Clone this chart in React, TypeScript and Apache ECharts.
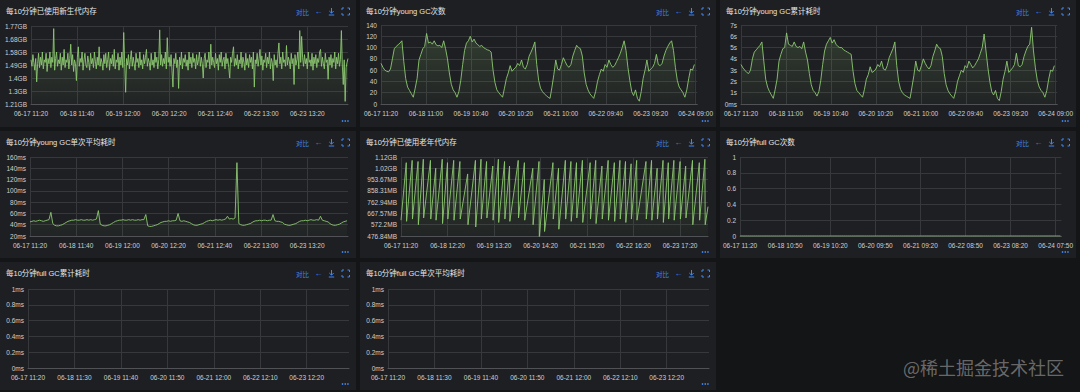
import React, { useEffect, useRef } from 'react';
import * as echarts from 'echarts';

// ---- time axis (10-minute slots starting 06-17 11:20) ----
const START_DAY = 17;
const START_MINUTE = 11 * 60 + 20;
const SLOT_MINUTES = 10;

// ---- series values ----
// 已使用新生代内存, in millions of bytes, one reading per 30 minutes (3 slots)
const youngUsedM = [
  1640, 1590, 1680, 1620, 1560, 1650, 1470, 1610, 1690, 1580,
  1660, 1600, 1700, 1570, 1640, 1620, 1690, 1550, 1650, 1610,
  1700, 1580, 1660, 1620, 1880, 1560, 1650, 1700, 1590, 1640,
  1610, 1690, 1560, 1660, 1600, 1720, 1580, 1640, 1620, 1690,
  1570, 1650, 1760, 1600, 1680, 1550, 1640, 1610, 1480, 1660,
  1740, 1590, 1650, 1620, 1700, 1560, 1640, 1690, 1600, 1580,
  1670, 1620, 1560, 1690, 1610, 1650, 1580, 1700, 1630, 1570,
  1660, 1600, 1740, 1590, 1650, 1620, 1560, 1680, 1610, 1690,
  1580, 1640, 1700, 1560, 1650, 1610, 1680, 1590, 1720, 1570,
  1640, 1620, 1690, 1560, 1660, 1600, 1700, 1580, 1850, 1620,
  1390, 1650, 1600, 1680, 1570, 1640, 1710, 1590, 1660, 1610,
  1560, 1690, 1620, 1650, 1580, 1700, 1600, 1640, 1570, 1680,
  1610, 1660, 1720, 1590, 1650, 1620, 1560, 1690, 1600, 1640,
  1580, 1700, 1620, 1660, 1570, 1640, 1870, 1600, 1680, 1590,
  1650, 1610, 1700, 1570, 1810, 1620, 1660, 1590, 1680, 1560,
  1430, 1650, 1610, 1690, 1580, 1640, 1420, 1660, 1600, 1700,
  1570, 1650, 1620, 1680, 1590, 1640, 1560, 1700, 1610, 1660,
  1580, 1690, 1620, 1650, 1570, 1680, 1600, 1640, 1700, 1590,
  1660, 1610, 1500, 1650, 1690, 1580, 1640, 1620, 1700, 1570,
  1760, 1600, 1660, 1620, 1580, 1690, 1610, 1650, 1560, 1680,
  1620, 1700, 1590, 1640, 1660, 1570, 1690, 1610, 1650, 1580,
  1500, 1660, 1620, 1690, 1740, 1590, 1650, 1600, 1680, 1570,
  1640, 1610, 1700, 1580, 1660, 1620, 1560, 1690, 1600, 1650,
  1580, 1680, 1620, 1660, 1570, 1700, 1430, 1640, 1610, 1690,
  1590, 1650, 1720, 1600, 1670, 1560, 1640, 1620, 1690, 1580,
  1660, 1610, 1700, 1570, 1650, 1620, 1480, 1680, 1600, 1640,
  1580, 1690, 1770, 1610, 1660, 1570, 1700, 1620, 1640, 1590,
  1750, 1600, 1660, 1630, 1570, 1690, 1610, 1650, 1450, 1680,
  1600, 1640, 1700, 1570, 1865, 1620, 1820, 1660, 1590, 1680,
  1610, 1650, 1570, 1700, 1620, 1640, 1590, 1690, 1560, 1660,
  1610, 1680, 1580, 1650, 1620, 1700, 1720, 1590, 1660, 1610,
  1570, 1690, 1620, 1640, 1490, 1660, 1600, 1680, 1580, 1650,
  1620, 1700, 1570, 1660, 1610, 1690, 1590, 1640, 1865, 1600,
  1450, 1640, 1320, 1580, 1620, 1650,
];

// young GC次数, one reading per hour
const youngCount = [
  72, 65, 60, 58, 57, 62, 80, 98, 102, 105,
  108, 112, 75, 45, 30, 24, 18, 12, 28, 45,
  78, 88, 98, 102, 125, 108, 110, 106, 112, 105,
  103, 104, 100, 112, 98, 80, 55, 35, 25, 20,
  12, 22, 42, 70, 95, 108, 112, 120, 110, 115,
  108, 105, 102, 104, 100, 98, 96, 95, 92, 60,
  38, 25, 20, 16, 12, 28, 45, 55, 68, 58,
  62, 65, 72, 68, 78, 65, 62, 70, 85, 92,
  100, 110, 70, 42, 28, 22, 18, 15, 12, 10,
  30, 52, 78, 62, 60, 70, 82, 75, 68, 65,
  70, 85, 95, 104, 100, 98, 85, 55, 35, 25,
  18, 14, 10, 22, 40, 52, 62, 58, 70, 65,
  78, 70, 65, 68, 75, 82, 90, 100, 112, 95,
  65, 42, 22, 15, 25, 10, 5, 22, 45, 60,
  78, 58, 62, 65, 72, 88, 70, 68, 72, 85,
  95, 102, 108, 112, 95, 65, 42, 30, 25, 20,
  12, 25, 45, 62, 60, 70,
];

// young GC累计耗时, seconds, one reading per hour
const youngTotalSec = [
  3.5, 3.2, 3.0, 2.8, 2.7, 3.0, 4.0, 4.6, 4.8, 5.0, 5.2, 5.5,
  3.8, 2.2, 1.5, 1.1, 0.8, 0.5,
  1.3, 2.2, 3.8, 4.4, 4.9, 5.0,
  6.3,
  5.3, 5.2, 5.1, 5.5, 5.1, 5.0, 5.1, 4.9, 5.5, 4.6,
  3.9, 2.7, 1.7, 1.2, 1.0, 0.7,
  1.1, 2.1, 3.5, 4.7, 5.3, 5.6, 5.9,
  5.4, 5.7, 5.3, 5.1, 5.0, 5.0, 4.8, 4.7, 4.6, 4.5, 4.4,
  2.9, 1.8, 1.2, 1.0, 0.8, 0.6,
  1.3, 2.2, 2.6, 3.3, 2.8, 2.9, 3.1, 3.5,
  3.3, 3.8, 3.1, 3.0, 3.4, 4.1, 4.5, 4.9, 5.5,
  3.4, 2.0, 1.3, 1.0, 0.8, 0.7, 0.6, 0.5,
  1.5, 2.5, 3.8, 3.0, 2.9, 3.4, 4.0, 3.6, 3.3, 3.1, 3.4,
  4.2, 4.7, 5.3, 5.0, 4.9, 4.2,
  2.7, 1.7, 1.2, 0.9, 0.7, 0.5,
  1.1, 2.0, 2.5, 3.0, 2.8, 3.4, 3.2, 3.8, 3.5,
  3.2, 3.4, 3.7, 4.0, 4.5, 5.0, 6.2, 4.7,
  3.2, 2.0, 1.1, 0.8, 1.2, 0.5, 0.3, 1.1,
  2.2, 2.9, 3.8, 2.8, 3.0, 3.2, 3.5, 4.5, 3.4, 3.3, 3.5, 4.2,
  4.7, 5.1, 5.3, 6.8, 4.7, 3.2,
  2.1, 1.5, 1.2, 1.0, 0.6,
  1.2, 2.2, 3.0, 2.9, 3.4,
];

// young GC单次平均耗时, ms, one reading per hour
const youngAvgMs = [
  45, 46, 47, 46, 47, 48, 47, 46, 47, 48,
  49, 62, 42, 39, 38, 38, 39, 40, 42, 44,
  46, 47, 48, 48, 49, 48, 48, 49, 48, 48,
  49, 48, 49, 48, 49, 50,
  65, 41, 39, 38, 38, 39, 40, 42, 44,
  46, 47, 48, 48, 49, 48, 48, 49, 48, 49, 48, 48, 49, 48, 49, 49,
  58, 38, 37, 37, 38, 39, 40, 42,
  44, 45, 46, 46, 47, 46, 47, 47, 48,
  60, 47, 46, 47, 46, 45, 44,
  42, 40, 39, 39, 40, 41, 42, 44,
  46, 47, 48, 47, 48, 49, 48, 49, 48, 49, 50,
  55, 50, 51, 50, 52, 150, 42,
  40, 39, 39, 40, 41, 42, 44,
  46, 47, 47, 48, 47, 48, 48, 47, 48, 48,
  58, 47, 46, 46, 45, 44,
  41, 40, 39, 39, 40, 41, 42, 44,
  46, 47, 47, 48, 47, 48, 49, 48, 48, 49, 48,
  55, 48, 47, 46, 45,
  42, 40, 39, 39, 40, 41, 43,
  45, 46, 47,
];

// 已使用老年代内存, millions of bytes: [slot, value] at each low and high of the sawtooth
const oldGenM: [number, number][] = [
  [0, 640], [17, 1150], [18, 630], [36, 1170], [37, 650], [55, 1160], [56, 600], [72, 1180],
  [73, 660], [95, 1170], [96, 650], [112, 1100], [113, 640], [133, 1180], [134, 610], [150, 1150],
  [151, 650], [170, 1170], [171, 640], [190, 1160], [191, 650], [215, 1050], [216, 600], [240, 1170],
  [241, 580], [258, 1180], [259, 650], [276, 1160], [277, 660], [296, 1120], [297, 640], [314, 1180],
  [315, 620], [334, 1160], [335, 650], [350, 1120], [351, 630], [378, 1170], [379, 660], [398, 1150],
  [399, 640], [425, 1100], [426, 600], [445, 1160], [446, 490], [462, 1000], [463, 540], [490, 1150],
  [491, 650], [508, 1100], [509, 560], [530, 1170], [531, 650], [548, 1160], [549, 630], [566, 1150],
  [567, 660], [585, 1170], [586, 620], [610, 1150], [611, 650], [628, 1170], [629, 610], [648, 1120],
  [649, 650], [668, 1170], [669, 640], [688, 1150], [689, 630], [706, 1170], [707, 650], [724, 1160],
  [725, 620], [742, 1140], [743, 650], [760, 1170], [761, 640], [790, 1160], [791, 650], [808, 1170],
  [809, 640], [826, 1100], [827, 650], [845, 1170], [846, 620], [862, 1150], [863, 650], [880, 1170],
  [881, 640], [900, 1160], [901, 650], [918, 1120], [919, 660], [940, 1170], [941, 600], [962, 1150],
  [963, 640], [980, 1180], [981, 600], [990, 760],
];

// full GC次数: every hourly reading is 0
const fullGcCount: number[] = new Array(168).fill(0);

// ---- styles ----
const FONT = "'Liberation Sans', 'Noto Sans CJK SC', sans-serif";
const CJK = "'Noto Sans CJK SC', sans-serif";
const PAGE_BG = '#141517';
const PANEL_BG = '#1e1f22';
const LINE = '#8cc870';
const BLUE = '#3f86f0';
const LABEL = '#cfcfcf';
const GRIDLINE = '#36383c';

const GB = 1024 * 1024 * 1024;
const MB = 1024 * 1024;
function fmtBytes(millions: number): string {
  const b = millions * 1e6;
  if (b >= GB) return `${parseFloat((b / GB).toFixed(2))}GB`;
  return `${parseFloat((b / MB).toFixed(2))}MB`;
}
const fmtSec = (v: number) => (v === 0 ? '0ms' : `${v}s`);
const fmtMs = (v: number) => `${parseFloat(v.toFixed(2))}ms`;
const fmtPlain = (v: number) => `${parseFloat(v.toFixed(2))}`;

function slotLabels(count: number): string[] {
  const out: string[] = [];
  for (let i = 0; i < count; i++) {
    const m = START_MINUTE + i * SLOT_MINUTES;
    const day = START_DAY + Math.floor(m / 1440);
    const mm = m % 1440;
    const hh = Math.floor(mm / 60);
    const mi = mm % 60;
    out.push(`06-${String(day).padStart(2, '0')} ${String(hh).padStart(2, '0')}:${String(mi).padStart(2, '0')}`);
  }
  return out;
}

const everySlots = (vals: number[], step: number) => vals.map((v, i) => [i * step, v]);

type Panel = {
  title: string; x: number; y: number; w: number; h: number;
  grid: { left: number; right: number; top: number; bottom: number };
  count: number; every: number;
  yMin: number; yMax: number; yStep: number; fmt: (v: number) => string;
  data: number[][] | null; area: boolean;
};

const PANELS: Panel[] = [
  { title: '每10分钟已使用新生代内存', x: 0, y: 0, w: 356, h: 127, grid: { left: 31, right: 8, top: 26, bottom: 23 },
    count: 1006, every: 146, yMin: 1300, yMax: 1900, yStep: 100, fmt: fmtBytes, data: everySlots(youngUsedM, 3), area: true },
  { title: '每10分钟young GC次数', x: 360, y: 0, w: 356, h: 127, grid: { left: 21, right: 8, top: 25, bottom: 23 },
    count: 1000, every: 142, yMin: 0, yMax: 140, yStep: 20, fmt: fmtPlain, data: everySlots(youngCount, 6), area: true },
  { title: '每10分钟young GC累计耗时', x: 720, y: 0, w: 356, h: 127, grid: { left: 21, right: 8, top: 25, bottom: 23 },
    count: 1000, every: 142, yMin: 0, yMax: 7, yStep: 1, fmt: fmtSec, data: everySlots(youngTotalSec, 6), area: true },
  { title: '每10分钟young GC单次平均耗时', x: 0, y: 131, w: 356, h: 127, grid: { left: 30, right: 8, top: 26, bottom: 22 },
    count: 1006, every: 146, yMin: 20, yMax: 160, yStep: 20, fmt: fmtMs, data: everySlots(youngAvgMs, 6), area: true },
  { title: '每10分钟已使用老年代内存', x: 360, y: 131, w: 356, h: 127, grid: { left: 41, right: 8, top: 26, bottom: 22 },
    count: 991, every: 150, yMin: 500, yMax: 1200, yStep: 100, fmt: fmtBytes, data: oldGenM, area: true },
  { title: '每10分钟full GC次数', x: 720, y: 131, w: 356, h: 127, grid: { left: 19, right: 8, top: 26, bottom: 22 },
    count: 1006, every: 141, yMin: 0, yMax: 1, yStep: 0.2, fmt: fmtPlain, data: everySlots(fullGcCount, 6), area: false },
  { title: '每10分钟full GC累计耗时', x: 0, y: 262, w: 356, h: 128, grid: { left: 28, right: 7, top: 27, bottom: 22 },
    count: 1003, every: 145, yMin: 0, yMax: 1, yStep: 0.2, fmt: fmtMs, data: null, area: false },
  { title: '每10分钟full GC单次平均耗时', x: 360, y: 262, w: 356, h: 128, grid: { left: 28, right: 7, top: 27, bottom: 22 },
    count: 1003, every: 145, yMin: 0, yMax: 1, yStep: 0.2, fmt: fmtMs, data: null, area: false },
];

function panelGraphics(p: Panel) {
  const ty = 11.5;
  const icon = { stroke: BLUE, lineWidth: 1, fill: 'none' };
  return [
    { type: 'text', silent: true, x: 6, y: ty, style: { text: p.title, fill: '#e6e6e6', font: `7.5px ${FONT}`, textVerticalAlign: 'middle' } },
    { type: 'text', silent: true, x: 296, y: ty, style: { text: '对比', fill: BLUE, font: `6.5px ${CJK}`, textVerticalAlign: 'middle' } },
    { type: 'text', silent: true, x: 318.5, y: ty, style: { text: '←', fill: BLUE, font: `8px ${FONT}`, textAlign: 'center', textVerticalAlign: 'middle' } },
    { type: 'polyline', silent: true, shape: { points: [[331.5, 8], [331.5, 13]] }, style: icon },
    { type: 'polyline', silent: true, shape: { points: [[329.3, 11], [331.5, 13.2], [333.7, 11]] }, style: icon },
    { type: 'polyline', silent: true, shape: { points: [[328.8, 15], [334.2, 15]] }, style: icon },
    { type: 'polyline', silent: true, shape: { points: [[342, 10], [342, 8], [344, 8]] }, style: icon },
    { type: 'polyline', silent: true, shape: { points: [[347.5, 8], [349.5, 8], [349.5, 10]] }, style: icon },
    { type: 'polyline', silent: true, shape: { points: [[342, 13], [342, 15], [344, 15]] }, style: icon },
    { type: 'polyline', silent: true, shape: { points: [[347.5, 15], [349.5, 15], [349.5, 13]] }, style: icon },
    ...[342.5, 345.2, 347.9].map((cx) => ({ type: 'circle', silent: true, shape: { cx, cy: p.h - 6, r: 0.8 }, style: { fill: BLUE } })),
  ];
}

function buildOption(p: Panel) {
  const labels = slotLabels(p.count);
  const series: any[] = [];
  if (p.data) {
    series.push({
      type: 'line', data: p.data, showSymbol: false, symbol: 'none', silent: true,
      lineStyle: { color: LINE, width: 0.9 }, itemStyle: { color: LINE },
      areaStyle: p.area ? {
        color: new echarts.graphic.LinearGradient(0, 0, 0, 1, [
          { offset: 0, color: 'rgba(140,200,112,0.26)' },
          { offset: 1, color: 'rgba(140,200,112,0.04)' },
        ]),
      } : undefined,
    });
  }
  return {
    animation: false,
    backgroundColor: 'transparent',
    textStyle: { fontFamily: FONT },
    grid: { ...p.grid, containLabel: false },
    xAxis: {
      type: 'category', data: labels, boundaryGap: false,
      axisLine: { lineStyle: { color: '#505256' } },
      axisTick: { show: false },
      axisLabel: { interval: p.every - 1, color: LABEL, fontSize: 6.5, margin: 6, fontFamily: FONT },
      splitLine: { show: true, interval: p.every - 1, lineStyle: { color: GRIDLINE, width: 1 } },
    },
    yAxis: {
      type: 'value', min: p.yMin, max: p.yMax, interval: p.yStep,
      axisLine: { show: false }, axisTick: { show: false },
      axisLabel: { formatter: p.fmt, color: LABEL, fontSize: 6.5, margin: 4, fontFamily: FONT },
      splitLine: { lineStyle: { color: GRIDLINE, width: 1 } },
    },
    graphic: panelGraphics(p),
    series,
  };
}

export default function App() {
  const refs = useRef<(HTMLDivElement | null)[]>([]);
  useEffect(() => {
    const charts = PANELS.map((p, i) => {
      const c = echarts.init(refs.current[i]!, null, { renderer: 'svg' });
      c.setOption(buildOption(p));
      return c;
    });
    const wm = echarts.init(refs.current[PANELS.length]!, null, { renderer: 'svg' });
    wm.setOption({
      animation: false,
      graphic: [{ type: 'text', silent: true, x: 183, y: 104.5,
        style: { text: '@稀土掘金技术社区', fill: 'rgba(160,160,160,0.62)', font: `18px ${CJK}`, textVerticalAlign: 'middle' } }],
    });
    return () => { charts.forEach((c) => c.dispose()); wm.dispose(); };
  }, []);
  return (
    <div style={{ position: 'absolute', left: 0, top: 0, width: 1080, height: 392, background: PAGE_BG, overflow: 'hidden' }}>
      {PANELS.map((p, i) => (
        <div key={i} ref={(el) => { refs.current[i] = el; }}
          style={{ position: 'absolute', left: p.x, top: p.y, width: p.w, height: p.h, background: PANEL_BG, overflow: 'hidden' }} />
      ))}
      <div ref={(el) => { refs.current[PANELS.length] = el; }}
        style={{ position: 'absolute', left: 720, top: 262, width: 360, height: 130 }} />
    </div>
  );
}
